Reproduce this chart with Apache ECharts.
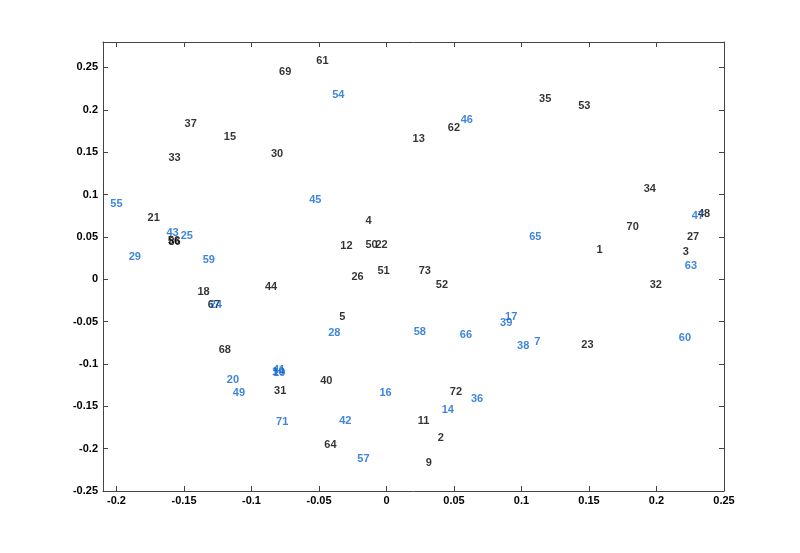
<!DOCTYPE html>
<html>
<head>
<meta charset="utf-8">
<script src="https://cdn.jsdelivr.net/npm/echarts@6/dist/echarts.min.js"></script>
<style>html,body{margin:0;padding:0;background:#fff}#c{width:800px;height:553px}</style>
</head>
<body>
<div id="c"></div>
<script>
var blackLabels = ['61','69','37','15','33','30','13','62','35','53','34','48','70','27','1','3','32','23','21','4','12','50','22','26','51','73','52','18','44','67','5','68','31','40','64','11','2','9','72','56','8','6'];
var blackX = [-0.052,-0.0796,-0.1496,-0.1205,-0.1615,-0.0856,0.0193,0.0454,0.113,0.142,0.1905,0.2307,0.1778,0.2225,0.1555,0.2195,0.195,0.1443,-0.177,-0.0156,-0.0342,-0.0156,-0.0082,-0.026,-0.0067,0.0238,0.0365,-0.140,-0.090,-0.1324,-0.035,-0.1243,-0.0833,-0.0491,-0.0461,0.0231,0.038,0.029,0.0469,-0.162,-0.1615,-0.157];
var blackY = [0.258,0.245,0.183,0.1675,0.1427,0.1474,0.166,0.179,0.213,0.205,0.106,0.0767,0.0613,0.0495,0.0342,0.0318,-0.0071,-0.0778,0.072,0.0684,0.039,0.040,0.040,0.0024,0.0094,0.0094,-0.0071,-0.0153,-0.0094,-0.0307,-0.0448,-0.0837,-0.132,-0.120,-0.1958,-0.1675,-0.1875,-0.217,-0.1333,0.0448,0.0436,0.0445];

var blueLabels = ['54','46','55','45','43','25','29','59','65','47','63','17','39','7','38','60','58','66','28','24','20','49','41','19','10','71','42','16','14','36','57'];
var blueX = [-0.0402,0.055,-0.2046,-0.0573,-0.163,-0.1525,-0.191,-0.1362,0.1057,0.2262,0.221,0.0878,0.0841,0.1094,0.0967,0.2165,0.0201,0.0543,-0.0432,-0.131,-0.1183,-0.1138,-0.0841,-0.084,-0.0848,-0.0818,-0.035,-0.0052,0.0409,0.0625,-0.0216];
var blueY = [0.217,0.1875,0.0884,0.093,0.0542,0.0507,0.026,0.0224,0.0495,0.0743,0.0153,-0.0448,-0.0519,-0.0743,-0.079,-0.0696,-0.0625,-0.066,-0.0637,-0.0307,-0.119,-0.1344,-0.1073,-0.111,-0.1097,-0.1686,-0.1675,-0.1344,-0.1545,-0.1415,-0.2123];

var xTicks = [-0.2,-0.15,-0.1,-0.05,0,0.05,0.1,0.15,0.2,0.25];
var yTicks = [-0.25,-0.2,-0.15,-0.1,-0.05,0,0.05,0.1,0.15,0.2,0.25];

function mk(labels, xs, ys){
  return labels.map(function(l,i){ return {name:l, value:[xs[i], ys[i]]}; });
}
var fontFam = 'Liberation Sans, Arial, sans-serif';
function lblSeries(name, data, color){
  return {
    type:'scatter', name:name, data:data, symbolSize:0, silent:true,
    xAxisIndex:0, yAxisIndex:0,
    label:{show:true, position:'right', distance:0, formatter:'{b}', color:color,
      fontSize:11, fontWeight:'bold', fontFamily:fontFam, verticalAlign:'middle', align:'left'},
    labelLayout:{hideOverlap:false}
  };
}
var axisLineStyle = {color:'#444', width:1};
function xAx(pos, showLabel){
  return {type:'value', position:pos, min:-0.21, max:0.25,
    axisLine:{show:true, onZero:false, lineStyle:axisLineStyle},
    axisTick:{show:true, inside:true, length:5, customValues:xTicks, lineStyle:axisLineStyle},
    axisLabel:{show:showLabel, customValues:xTicks, color:'#000', fontSize:11, fontWeight:'bold', fontFamily:fontFam, margin:4},
    splitLine:{show:false}};
}
function yAx(pos, showLabel){
  return {type:'value', position:pos, min:-0.25, max:0.28,
    axisLine:{show:true, onZero:false, lineStyle:axisLineStyle},
    axisTick:{show:true, inside:true, length:5, customValues:yTicks, lineStyle:axisLineStyle},
    axisLabel:{show:showLabel, customValues:yTicks, color:'#000', fontSize:11, fontWeight:'bold', fontFamily:fontFam, margin:5},
    splitLine:{show:false}};
}
var chart = echarts.init(document.getElementById('c'), null, {renderer:'canvas'});
chart.setOption({
  animation:false,
  backgroundColor:'#fff',
  grid:{left:103, right:76, top:42, bottom:62},
  xAxis:[xAx('bottom', true), xAx('top', false)],
  yAxis:[yAx('left', true), yAx('right', false)],
  series:[
    lblSeries('black', mk(blackLabels, blackX, blackY), '#000'),
    lblSeries('blue', mk(blueLabels, blueX, blueY), '#0f66d0')
  ]
});
</script>
</body>
</html>
